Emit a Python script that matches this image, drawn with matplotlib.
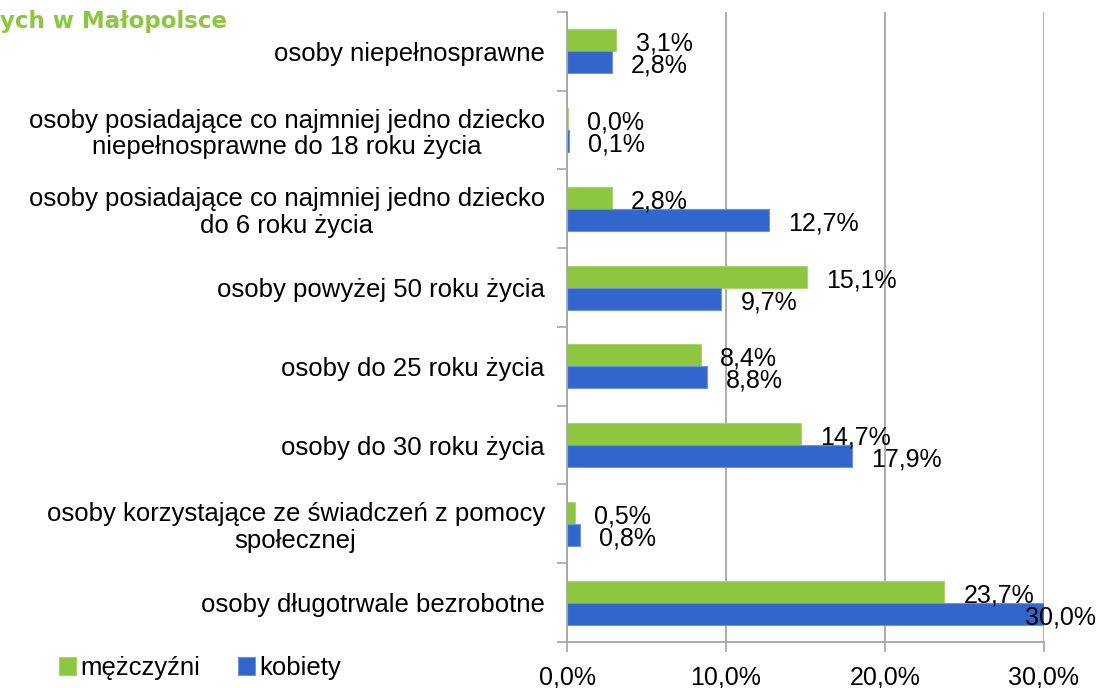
import matplotlib
matplotlib.use("Agg")
import matplotlib.pyplot as plt
import numpy as np

categories = [
    "osoby niepełnosprawne",
    "osoby posiadające co najmniej jedno dziecko\nniepełnosprawne do 18 roku życia",
    "osoby posiadające co najmniej jedno dziecko\ndo 6 roku życia",
    "osoby powyżej 50 roku życia",
    "osoby do 25 roku życia",
    "osoby do 30 roku życia",
    "osoby korzystające ze świadczeń z pomocy\nspołecznej",
    "osoby długotrwale bezrobotne",
]
men = [3.1, 0.04, 2.8, 15.1, 8.4, 14.7, 0.5, 23.7]
women = [2.8, 0.1, 12.7, 9.7, 8.8, 17.9, 0.8, 30.0]
series_names = ["mężczyźni", "kobiety"]
x_ticks = [0, 10, 20, 30]
title_tail = "ych w Małopolsce"

GREEN = "#8DC63F"
BLUE = "#3366CC"
GRID = "#A6A6A6"

plt.rcParams["font.family"] = ["Liberation Sans", "DejaVu Sans"]

fig = plt.figure(figsize=(10.98, 6.88), dpi=100)
ax = fig.add_axes([0.5164, 0.0669, 0.4344, 0.9157])

y = np.arange(len(categories))
h = 0.28
bars_m = ax.barh(y - h / 2, men, height=h, color=GREEN, edgecolor="#A9D46F",
                 linewidth=0.8, label=series_names[0])
bars_w = ax.barh(y + h / 2, women, height=h, color=BLUE, edgecolor="#6F93DB",
                 linewidth=0.8, label=series_names[1])

xmax = 30
ax.set_xlim(0, xmax)
ax.set_ylim(len(categories) - 0.5, -0.5)


def fmt(v):
    return f"{v:.1f}%".replace(".", ",")


for vals, pos in ((men, y - h / 2), (women, y + h / 2)):
    for v, yy in zip(vals, pos):
        # Excel pulls the label back inside when it would leave the chart
        xoff = 14 if v < xmax - 1 else -14
        ax.annotate(fmt(v), xy=(v, yy), xytext=(xoff, -2.5), textcoords="offset points",
                    ha="left", va="center", fontsize=18, color="black")

ax.set_xticks(x_ticks)
ax.set_xticklabels([fmt(t) for t in x_ticks], fontsize=18)
ax.set_yticks(y)
ax.set_yticklabels(categories, fontsize=18.5, multialignment="center", linespacing=1.15)
ax.set_yticks(np.arange(len(categories) + 1) - 0.5, minor=True)
ax.tick_params(axis="y", which="major", length=0, pad=16)
ax.tick_params(axis="y", which="minor", length=7, width=1.2, color=GRID)
ax.tick_params(axis="x", length=7, width=1.2, color=GRID, pad=10)

ax.xaxis.grid(True, color=GRID, linewidth=1.3)
ax.set_axisbelow(True)
for s in ("top", "right"):
    ax.spines[s].set_visible(False)
for s in ("left", "bottom"):
    ax.spines[s].set_color(GRID)
    ax.spines[s].set_linewidth(1.3)

fig.text(0.0, 0.985, title_tail, color=GREEN, fontsize=16.5, fontweight="bold",
         family="DejaVu Sans", ha="left", va="top")

fig.legend(handles=[bars_m, bars_w], labels=series_names, loc="center left",
           bbox_to_anchor=(0.054, 0.029), ncol=2, frameon=False, fontsize=18.5,
           handlelength=0.65, handleheight=0.65, handletextpad=0.15, columnspacing=1.5,
           borderpad=0, borderaxespad=0)

fig.savefig("out.png", dpi=100)
